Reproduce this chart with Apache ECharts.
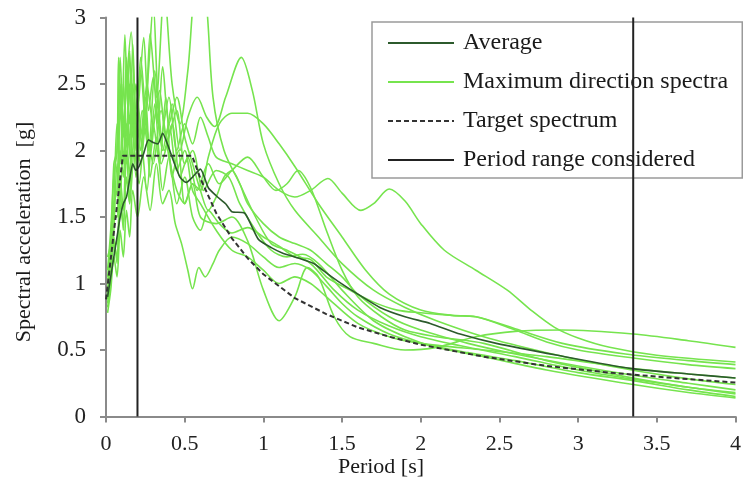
<!DOCTYPE html>
<html>
<head>
<meta charset="utf-8">
<script src="https://cdn.jsdelivr.net/npm/echarts@6/dist/echarts.min.js"></script>
<style>html,body{margin:0;padding:0;background:#fff}#c{width:744px;height:482px}</style>
</head>
<body>
<div id="c"></div>
<script>
// ---- Data (period [s], spectral acceleration [g]) ----
const rec1 = [[0.01,0.95],[0.03,1.2],[0.05,1.5],[0.07,1.5],[0.09,2.0],[0.11,1.8],[0.13,2.2],[0.16,1.9],[0.19,2.3],[0.22,2.0],[0.26,2.5],[0.3,2.2],[0.34,2.45],[0.38,2.1],[0.42,2.35],[0.47,2.0],[0.52,2.25],[0.58,2.4],[0.64,2.25],[0.69,2.18],[0.76,2.4],[0.86,2.7],[0.93,2.45],[1.0,2.05],[1.1,1.75],[1.2,1.55],[1.35,1.35],[1.5,1.15],[1.7,0.95],[1.9,0.82],[2.1,0.72],[2.4,0.6],[2.8,0.48],[3.2,0.38],[3.6,0.3],[4.0,0.24]];
const rec2 = [[0.01,0.85],[0.03,1.05],[0.05,1.3],[0.07,1.2],[0.09,1.6],[0.11,1.45],[0.13,1.8],[0.15,1.6],[0.18,2.0],[0.21,1.75],[0.25,2.2],[0.3,1.9],[0.35,2.3],[0.4,1.95],[0.45,1.7],[0.5,1.6],[0.55,1.75],[0.6,1.7],[0.65,1.95],[0.72,2.2],[0.8,2.28],[0.9,2.28],[1.0,2.2],[1.1,2.05],[1.2,1.88],[1.35,1.6],[1.5,1.35],[1.65,1.1],[1.8,0.92],[2.0,0.8],[2.2,0.76],[2.35,0.75],[2.6,0.66],[2.9,0.55],[3.3,0.47],[3.7,0.42],[4.0,0.39]];
const rec3 = [[0.01,1.0],[0.03,1.3],[0.05,1.6],[0.07,1.7],[0.09,2.5],[0.11,2.1],[0.13,2.7],[0.15,2.2],[0.17,2.5],[0.2,1.9],[0.23,2.3],[0.27,2.0],[0.31,2.6],[0.35,2.1],[0.4,2.4],[0.45,2.0],[0.5,2.2],[0.55,2.05],[0.6,2.25],[0.65,2.1],[0.7,1.95],[0.8,1.9],[0.9,1.85],[1.0,1.8],[1.1,1.7],[1.2,1.65],[1.3,1.7],[1.41,1.79],[1.5,1.68],[1.62,1.55],[1.7,1.6],[1.8,1.71],[1.9,1.62],[2.0,1.45],[2.15,1.25],[2.35,1.1],[2.55,0.95],[2.7,0.8],[2.85,0.67],[3.0,0.59],[3.2,0.52],[3.5,0.46],[4.0,0.41]];
const rec4 = [[0.01,0.9],[0.03,1.1],[0.05,1.4],[0.07,1.9],[0.09,1.6],[0.11,2.2],[0.13,1.9],[0.15,2.5],[0.17,2.1],[0.2,2.4],[0.23,2.0],[0.27,2.6],[0.3,3.1],[0.33,2.4],[0.37,2.0],[0.42,2.2],[0.47,1.8],[0.52,1.95],[0.58,1.7],[0.65,1.9],[0.72,1.75],[0.8,1.85],[0.9,1.95],[1.0,1.8],[1.08,1.7],[1.15,1.75],[1.22,1.85],[1.3,1.72],[1.4,1.4],[1.5,1.1],[1.6,0.9],[1.75,0.75],[1.9,0.65],[2.1,0.6],[2.4,0.55],[2.8,0.42],[3.3,0.3],[3.7,0.22],[4.0,0.18]];
const rec5 = [[0.01,1.1],[0.03,1.4],[0.05,1.8],[0.07,2.0],[0.09,2.7],[0.11,2.2],[0.13,2.5],[0.16,2.89],[0.19,2.3],[0.22,2.6],[0.25,2.2],[0.28,2.88],[0.32,2.4],[0.37,3.2],[0.42,2.5],[0.47,2.2],[0.52,2.6],[0.58,3.3],[0.63,3.2],[0.68,2.4],[0.75,2.0],[0.85,1.75],[0.95,1.5],[1.05,1.3],[1.15,1.25],[1.3,1.15],[1.45,0.95],[1.6,0.8],[1.8,0.68],[2.0,0.6],[2.3,0.52],[2.6,0.45],[3.0,0.35],[3.35,0.28],[3.7,0.22],[4.0,0.17]];
const rec6 = [[0.01,1.2],[0.03,1.3],[0.05,1.9],[0.07,2.0],[0.08,2.7],[0.1,2.2],[0.12,2.87],[0.14,2.3],[0.16,2.6],[0.18,2.0],[0.21,2.4],[0.24,2.85],[0.27,2.3],[0.3,2.55],[0.33,2.2],[0.36,2.63],[0.4,2.2],[0.45,2.4],[0.5,2.1],[0.55,1.9],[0.6,1.7],[0.65,1.55],[0.7,1.65],[0.75,1.8],[0.8,1.85],[0.85,1.75],[0.9,1.6],[1.0,1.45],[1.1,1.35],[1.2,1.3],[1.3,1.25],[1.4,1.15],[1.5,1.05],[1.6,0.92],[1.8,0.75],[2.0,0.65],[2.3,0.55],[2.6,0.47],[3.0,0.38],[3.35,0.31],[3.7,0.25],[4.0,0.2]];
const rec7 = [[0.01,0.78],[0.03,0.95],[0.05,1.2],[0.07,1.05],[0.09,1.4],[0.11,1.2],[0.13,1.55],[0.15,1.35],[0.17,1.7],[0.2,1.5],[0.24,1.8],[0.28,1.55],[0.32,1.9],[0.36,1.6],[0.4,1.7],[0.44,1.45],[0.48,1.3],[0.52,1.1],[0.55,0.96],[0.59,1.12],[0.63,1.05],[0.68,1.15],[0.72,1.25],[0.8,1.35],[0.9,1.3],[1.0,1.2],[1.1,1.12],[1.2,1.15],[1.3,1.1],[1.4,0.98],[1.5,0.85],[1.6,0.75],[1.8,0.62],[2.0,0.55],[2.3,0.48],[2.6,0.42],[3.0,0.33],[3.35,0.27],[3.7,0.2],[4.0,0.15]];
const rec8 = [[0.01,0.82],[0.03,1.0],[0.05,1.35],[0.07,1.15],[0.09,1.7],[0.11,1.4],[0.13,2.0],[0.15,1.6],[0.17,2.3],[0.19,1.8],[0.22,2.1],[0.26,1.7],[0.3,2.2],[0.34,1.9],[0.38,2.4],[0.42,1.8],[0.46,2.0],[0.5,1.6],[0.55,1.75],[0.6,1.5],[0.7,1.45],[0.8,1.5],[0.9,1.32],[1.0,0.95],[1.1,0.72],[1.2,0.9],[1.28,1.12],[1.35,1.05],[1.45,0.75],[1.55,0.6],[1.7,0.55],[1.9,0.5],[2.1,0.52],[2.35,0.6],[2.6,0.64],[2.9,0.65],[3.35,0.62],[3.7,0.57],[4.0,0.52]];
const rec9 = [[0.01,0.92],[0.03,1.15],[0.05,1.5],[0.07,1.5],[0.09,2.35],[0.11,1.9],[0.13,2.6],[0.15,2.0],[0.17,2.8],[0.19,2.2],[0.22,1.9],[0.25,2.3],[0.28,1.8],[0.32,2.1],[0.36,1.7],[0.4,1.95],[0.45,1.6],[0.5,1.8],[0.55,1.5],[0.6,1.4],[0.65,1.55],[0.72,1.45],[0.8,1.38],[0.9,1.42],[1.0,1.35],[1.1,1.28],[1.2,1.2],[1.3,1.18],[1.4,1.05],[1.55,0.95],[1.7,0.86],[1.85,0.8],[2.0,0.78],[2.2,0.76],[2.35,0.75],[2.6,0.65],[2.8,0.56],[3.0,0.5],[3.35,0.44],[3.7,0.39],[4.0,0.36]];
const rec10 = [[0.01,0.88],[0.03,1.05],[0.05,1.3],[0.07,1.3],[0.09,1.8],[0.11,1.55],[0.13,2.1],[0.15,1.8],[0.17,2.4],[0.19,2.0],[0.22,2.7],[0.25,2.3],[0.28,2.0],[0.31,2.35],[0.35,1.9],[0.4,2.1],[0.45,2.3],[0.5,1.9],[0.55,2.0],[0.62,1.7],[0.7,1.85],[0.78,1.8],[0.85,1.6],[0.95,1.4],[1.05,1.25],[1.15,1.2],[1.25,1.22],[1.35,1.15],[1.5,0.95],[1.7,0.72],[1.9,0.6],[2.1,0.52],[2.4,0.45],[2.8,0.35],[3.35,0.24],[3.7,0.18],[4.0,0.14]];
const rec11 = [[0.01,1.05],[0.03,1.25],[0.05,1.6],[0.07,2.2],[0.09,1.9],[0.11,2.5],[0.13,2.1],[0.15,2.75],[0.17,2.2],[0.19,2.5],[0.22,2.1],[0.25,2.4],[0.28,1.95],[0.32,2.3],[0.36,2.0],[0.4,2.2],[0.45,1.85],[0.5,2.0],[0.55,1.7],[0.6,1.6],[0.7,1.4],[0.8,1.25],[0.9,1.2],[1.0,1.1],[1.1,1.0],[1.2,1.05],[1.3,1.0],[1.4,0.9],[1.6,0.7],[1.8,0.6],[2.0,0.55],[2.4,0.5],[2.8,0.45],[3.35,0.36],[3.7,0.32],[4.0,0.29]];
const records = [rec1, rec2, rec3, rec4, rec5, rec6, rec7, rec8, rec9, rec10, rec11];

const average = [[0.01,0.9],[0.03,1.05],[0.05,1.2],[0.07,1.35],[0.09,1.5],[0.11,1.6],[0.13,1.65],[0.15,1.78],[0.17,1.9],[0.19,1.85],[0.21,1.88],[0.24,1.98],[0.27,2.08],[0.3,2.06],[0.33,2.05],[0.36,2.13],[0.39,2.05],[0.42,1.95],[0.47,1.8],[0.51,1.76],[0.55,1.8],[0.6,1.86],[0.65,1.72],[0.7,1.66],[0.76,1.6],[0.8,1.54],[0.88,1.53],[0.93,1.42],[0.97,1.33],[1.05,1.27],[1.12,1.23],[1.2,1.2],[1.32,1.15],[1.4,1.08],[1.47,1.02],[1.6,0.92],[1.74,0.82],[1.9,0.75],[2.06,0.7],[2.25,0.62],[2.48,0.55],[2.87,0.46],[3.34,0.36],[3.7,0.32],[4.0,0.29]];

const target = [[0,0.88],[0.107,1.96],[0.547,1.96],[0.6,1.79],[0.7,1.53],[0.8,1.34],[0.9,1.19],[1.0,1.07],[1.2,0.89],[1.4,0.77],[1.6,0.67],[1.8,0.6],[2.0,0.54],[2.4,0.45],[2.8,0.38],[3.2,0.33],[3.6,0.29],[4.0,0.255]];

const periodRange = [0.2, 3.35];
const yRange = [0, 3];

const xTicks = { min: 0, max: 4, interval: 0.5 };
const yTicks = { min: 0, max: 3, interval: 0.5 };

// ---- Chart ----
const GREEN = '#76e44e';
const FONT = 'Liberation Serif';
const series = [];
records.forEach(r => {
  series.push({
    name: 'Maximum direction spectra', type: 'line', data: r, symbol: 'none',
    smooth: 0.3, lineStyle: { color: GREEN, width: 1.6 }, itemStyle: { color: GREEN },
    z: 2, silent: true
  });
});
series.push({
  name: 'Target spectrum', type: 'line', data: target, symbol: 'none',
  lineStyle: { color: '#333', width: 2, type: [5, 3] }, itemStyle: { color: '#333' }, z: 3
});
series.push({
  name: 'Average', type: 'line', data: average, symbol: 'none', smooth: 0.2,
  lineStyle: { color: '#2c5a2c', width: 1.6 }, itemStyle: { color: '#2c5a2c' }, z: 4
});
periodRange.forEach(p => {
  series.push({
    name: 'Period range considered', type: 'line', symbol: 'none',
    data: [[p, yRange[0]], [p, yRange[1]]],
    lineStyle: { color: '#222', width: 2 }, itemStyle: { color: '#222' }, z: 5
  });
});

const chart = echarts.init(document.getElementById('c'), null, { renderer: 'canvas' });
chart.setOption({
  animation: false,
  backgroundColor: '#fff',
  grid: { left: 106, right: 2, top: 17.5, bottom: 65.5, containLabel: false },
  xAxis: {
    type: 'value', min: xTicks.min, max: xTicks.max, interval: xTicks.interval,
    axisLine: { show: true, lineStyle: { color: '#8a8a8a', width: 2 } },
    axisTick: { show: true, length: 6, lineStyle: { color: '#8a8a8a', width: 2 } },
    splitLine: { show: false },
    axisLabel: { fontFamily: FONT, fontSize: 22, color: '#222', margin: 17 }
  },
  yAxis: {
    type: 'value', min: yTicks.min, max: yTicks.max, interval: yTicks.interval,
    axisLine: { show: true, lineStyle: { color: '#8a8a8a', width: 2 } },
    axisTick: { show: true, length: 6, lineStyle: { color: '#8a8a8a', width: 2 } },
    splitLine: { show: false },
    axisLabel: { fontFamily: FONT, fontSize: 23, color: '#222', margin: 20 }
  },
  legend: {
    data: ['Average', 'Maximum direction spectra', 'Target spectrum', 'Period range considered'],
    orient: 'vertical', left: 372, top: 22,
    padding: [9, 14, 6, 15], itemGap: 15, itemWidth: 66, itemHeight: 2,
    itemStyle: { opacity: 0 },
    borderColor: '#9a9a9a', borderWidth: 1.5, backgroundColor: '#fff',
    selectedMode: false,
    textStyle: { fontFamily: FONT, fontSize: 24, color: '#1a1a1a', lineHeight: 24, padding: [0, 0, 0, 4] }
  },
  graphic: [
    { type: 'text', x: 381, y: 467, style: { text: 'Period [s]', fontFamily: FONT, fontSize: 22, fill: '#1a1a1a', textAlign: 'center', textVerticalAlign: 'middle' } },
    { type: 'text', x: 24, y: 232, rotation: Math.PI / 2, style: { text: 'Spectral acceleration  [g]', fontFamily: FONT, fontSize: 22, fill: '#1a1a1a', textAlign: 'center', textVerticalAlign: 'middle' } }
  ],
  series: series
});
</script>
</body>
</html>
